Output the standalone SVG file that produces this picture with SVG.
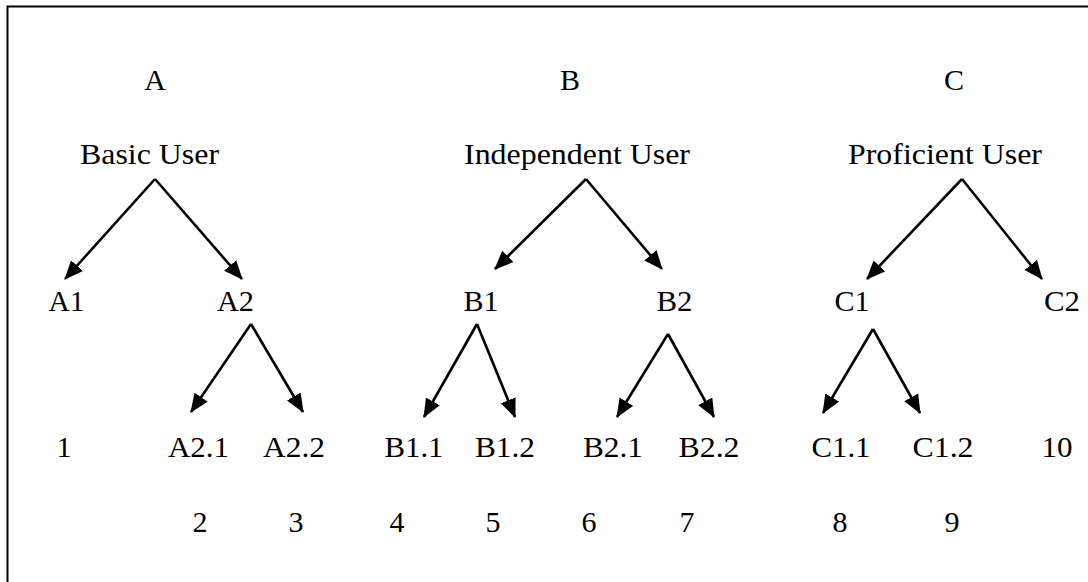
<svg xmlns="http://www.w3.org/2000/svg" width="1088" height="582" viewBox="0 0 1088 582">
<defs>
<style>
text{font-family:"Liberation Serif","Times New Roman",serif;font-size:30px;fill:#000;text-anchor:middle}
.c{stroke:#000;stroke-width:2.6;fill:none;marker-end:url(#ah)}
</style>
<marker id="ah" markerUnits="userSpaceOnUse" markerWidth="19" markerHeight="17" refX="18" refY="8" orient="auto" viewBox="0 0 19 16">
<path d="M0,0 L19,8 L0,16 z" fill="#000"/>
</marker>
</defs>
<rect width="1088" height="582" fill="#fff"/>
<path d="M7.5,582 V6.5 H1088" stroke="#000" stroke-width="2" fill="none"/>
<g id="A"><text x="155" y="90">A</text></g>
<g id="B"><text x="570" y="90">B</text></g>
<g id="C"><text x="954" y="90">C</text></g>
<g id="basic"><text x="149.5" y="164" textLength="139" lengthAdjust="spacingAndGlyphs">Basic User</text></g>
<g id="independent"><text x="577" y="164" textLength="226" lengthAdjust="spacingAndGlyphs">Independent User</text></g>
<g id="proficient"><text x="945" y="164" textLength="194" lengthAdjust="spacingAndGlyphs">Proficient User</text></g>
<g id="A1"><text x="66.5" y="311" textLength="36" lengthAdjust="spacingAndGlyphs">A1</text></g>
<g id="A2"><text x="235.5" y="311" textLength="37" lengthAdjust="spacingAndGlyphs">A2</text></g>
<g id="B1"><text x="481" y="311" textLength="35" lengthAdjust="spacingAndGlyphs">B1</text></g>
<g id="B2"><text x="674.5" y="311" textLength="36" lengthAdjust="spacingAndGlyphs">B2</text></g>
<g id="C1"><text x="852" y="311" textLength="35" lengthAdjust="spacingAndGlyphs">C1</text></g>
<g id="C2"><text x="1062" y="311" textLength="36" lengthAdjust="spacingAndGlyphs">C2</text></g>
<g id="n1"><text x="64" y="457">1</text></g>
<g id="A21"><text x="198.5" y="457" textLength="61" lengthAdjust="spacingAndGlyphs">A2.1</text></g>
<g id="A22"><text x="294" y="457" textLength="62" lengthAdjust="spacingAndGlyphs">A2.2</text></g>
<g id="B11"><text x="414" y="457" textLength="59" lengthAdjust="spacingAndGlyphs">B1.1</text></g>
<g id="B12"><text x="505" y="457" textLength="60" lengthAdjust="spacingAndGlyphs">B1.2</text></g>
<g id="B21"><text x="613" y="457" textLength="60" lengthAdjust="spacingAndGlyphs">B2.1</text></g>
<g id="B22"><text x="709" y="457" textLength="61" lengthAdjust="spacingAndGlyphs">B2.2</text></g>
<g id="C11"><text x="841" y="457" textLength="59" lengthAdjust="spacingAndGlyphs">C1.1</text></g>
<g id="C12"><text x="943" y="457" textLength="61" lengthAdjust="spacingAndGlyphs">C1.2</text></g>
<g id="n10"><text x="1057" y="457" textLength="31" lengthAdjust="spacingAndGlyphs">10</text></g>
<g id="n2"><text x="200" y="532">2</text></g>
<g id="n3"><text x="296" y="532">3</text></g>
<g id="n4"><text x="397" y="532">4</text></g>
<g id="n5"><text x="493" y="532">5</text></g>
<g id="n6"><text x="589" y="532">6</text></g>
<g id="n7"><text x="687" y="532">7</text></g>
<g id="n8"><text x="840" y="532">8</text></g>
<g id="n9"><text x="952" y="532">9</text></g>
<g id="connectors">
<line class="c" x1="155" y1="179" x2="65" y2="279"/>
<line class="c" x1="155" y1="179" x2="242" y2="279"/>
<line class="c" x1="251" y1="324" x2="191" y2="412"/>
<line class="c" x1="251" y1="324" x2="303" y2="412"/>
<line class="c" x1="586" y1="179" x2="495" y2="269"/>
<line class="c" x1="586" y1="179" x2="662" y2="269"/>
<line class="c" x1="477" y1="324" x2="424" y2="417"/>
<line class="c" x1="477" y1="324" x2="515" y2="417"/>
<line class="c" x1="668" y1="334" x2="617" y2="417"/>
<line class="c" x1="668" y1="334" x2="714" y2="417"/>
<line class="c" x1="962" y1="179" x2="867" y2="279"/>
<line class="c" x1="962" y1="179" x2="1042" y2="279"/>
<line class="c" x1="873" y1="329" x2="823" y2="413"/>
<line class="c" x1="873" y1="329" x2="920" y2="413"/>
</g>
</svg>
